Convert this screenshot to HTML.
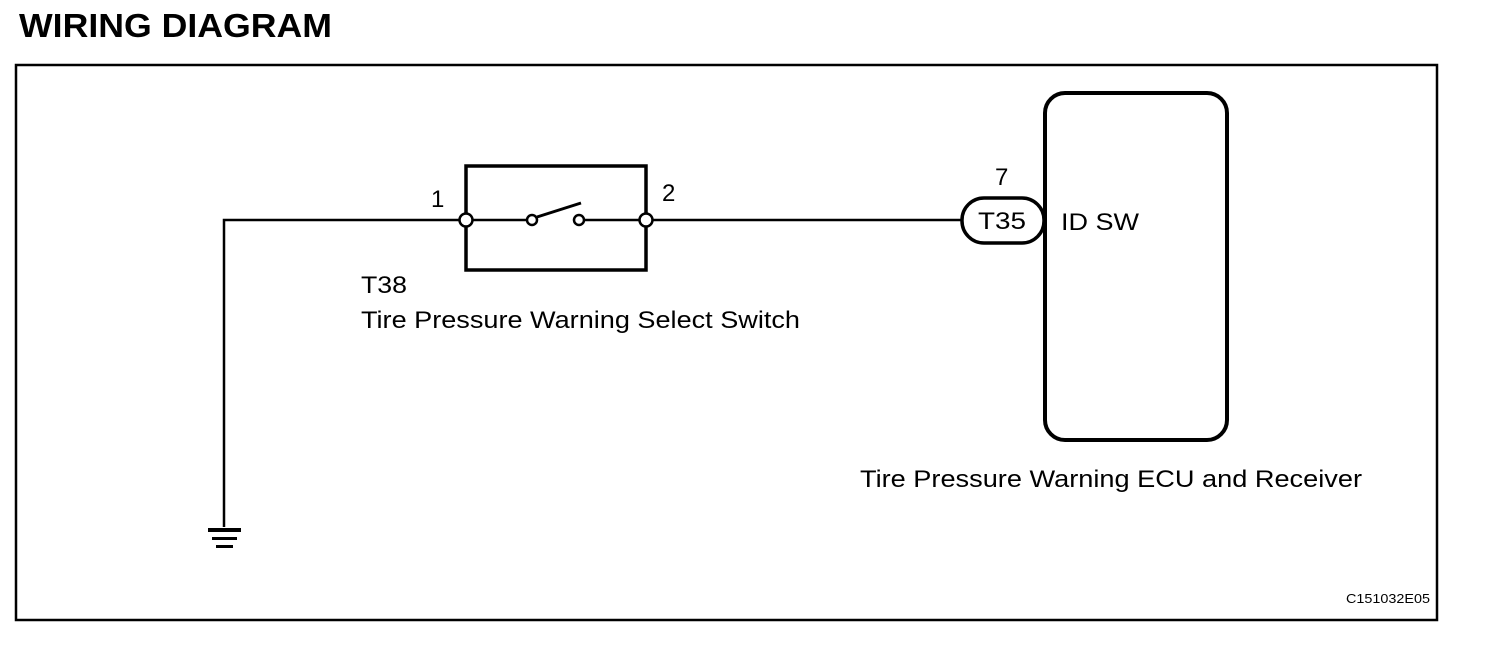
<!DOCTYPE html>
<html><head><meta charset="utf-8"><style>html,body{margin:0;padding:0;background:#fff}</style></head>
<body>
<svg width="1504" height="660" viewBox="0 0 1504 660" xmlns="http://www.w3.org/2000/svg" font-family="Liberation Sans, Arial, sans-serif">
<text x="19" y="37" font-size="33" font-weight="bold" textLength="313" lengthAdjust="spacingAndGlyphs">WIRING DIAGRAM</text>
<rect x="16" y="65" width="1421" height="555" fill="none" stroke="#000" stroke-width="2.5"/>
<g stroke="#000" fill="none">
<polyline points="224,527 224,220 460,220" stroke-width="2.5"/>
<line x1="652" y1="220" x2="962" y2="220" stroke-width="2.5"/>
<rect x="466" y="166" width="180" height="104" stroke-width="3.5"/>
<line x1="472" y1="220" x2="527" y2="220" stroke-width="2.5"/>
<line x1="584" y1="220" x2="640" y2="220" stroke-width="2.5"/>
<line x1="537" y1="217" x2="581" y2="203" stroke-width="3"/>
<rect x="962" y="198" width="82" height="45" rx="22" stroke-width="3.5"/>
<rect x="1045" y="93" width="182" height="347" rx="20" stroke-width="4" fill="#fff"/>
<circle cx="466" cy="220" r="6.5" fill="#fff" stroke-width="2.5"/>
<circle cx="646" cy="220" r="6.5" fill="#fff" stroke-width="2.5"/>
<circle cx="532" cy="220" r="5" fill="#fff" stroke-width="2.5"/>
<circle cx="579" cy="220" r="5" fill="#fff" stroke-width="2.5"/>
</g>
<rect x="208" y="528" width="33" height="4"/>
<rect x="212" y="537" width="25" height="3"/>
<rect x="216" y="545" width="17" height="3"/>
<g font-size="24">
<text x="431" y="207">1</text>
<text x="662" y="201">2</text>
<text x="995" y="185">7</text>
<text x="978" y="229" textLength="48" lengthAdjust="spacingAndGlyphs">T35</text>
<text x="1061" y="230" textLength="78" lengthAdjust="spacingAndGlyphs">ID SW</text>
<text x="361" y="293" textLength="46" lengthAdjust="spacingAndGlyphs">T38</text>
<text x="361" y="328" textLength="439" lengthAdjust="spacingAndGlyphs">Tire Pressure Warning Select Switch</text>
<text x="860" y="487" textLength="502" lengthAdjust="spacingAndGlyphs">Tire Pressure Warning ECU and Receiver</text>
</g>
<text x="1346" y="603" font-size="13" textLength="84" lengthAdjust="spacingAndGlyphs">C151032E05</text>
</svg>
</body></html>
